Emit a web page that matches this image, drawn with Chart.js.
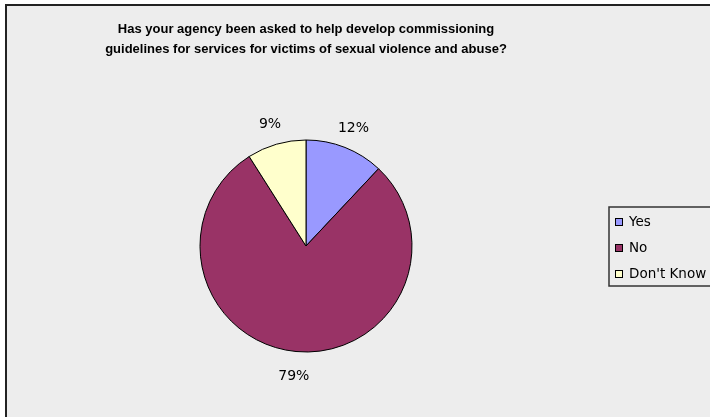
<!DOCTYPE html>
<html>
<head>
<meta charset="utf-8">
<script src="https://cdn.jsdelivr.net/npm/chart.js@4/dist/chart.umd.min.js"></script>
<style>
  html, body { margin: 0; padding: 0; background: #ffffff; }
  #wrap { width: 710px; height: 417px; overflow: hidden; }
</style>
</head>
<body>
<div id="wrap"><canvas id="pie-chart" width="710" height="417"></canvas></div>
<script>
var labels = ['Yes', 'No', "Don't Know"];
var values = [12, 79, 9];
var colours = ['#9999ff', '#993366', '#ffffcc'];
var titleLines = [
  'Has your agency been asked to help develop commissioning',
  'guidelines for services for victims of sexual violence and abuse?'
];

var fontFamily = '"DejaVu Sans", Verdana, sans-serif';
var titleFamily = '"Liberation Sans", Arial, sans-serif';

// grey panel, dark frame only shows on the left and top edges
var framePlugin = {
  id: 'frame',
  beforeDraw: function(chart) {
    var c = chart.ctx;
    c.save();
    c.fillStyle = '#ffffff';
    c.fillRect(0, 0, 710, 417);
    c.fillStyle = '#ededed';
    c.fillRect(5, 5, 705, 412);
    c.strokeStyle = '#222222';
    c.lineWidth = 2;
    c.beginPath();
    c.moveTo(6, 417);
    c.lineTo(6, 5);
    c.lineTo(710, 5);
    c.stroke();
    c.restore();
  }
};

// percentage labels outside each slice
var pctPlugin = {
  id: 'pctLabels',
  afterDatasetsDraw: function(chart) {
    var c = chart.ctx;
    var meta = chart.getDatasetMeta(0);
    var data = chart.data.datasets[0].data;
    var total = data.reduce(function(a, b) { return a + b; }, 0);
    c.save();
    c.font = '14px ' + fontFamily;
    c.fillStyle = '#000000';
    c.textAlign = 'center';
    c.textBaseline = 'middle';
    meta.data.forEach(function(arc, i) {
      var p = arc.getProps(['x', 'y', 'startAngle', 'endAngle', 'outerRadius'], true);
      var mid = (p.startAngle + p.endAngle) / 2;
      var r = p.outerRadius + 23;
      var txt = Math.round(data[i] / total * 100) + '%';
      c.fillText(txt, p.x + Math.cos(mid) * r, p.y + Math.sin(mid) * r + 2);
    });
    c.restore();
  }
};

// boxed legend on the right
var legendPlugin = {
  id: 'boxLegend',
  afterDraw: function(chart) {
    var c = chart.ctx;
    var ds = chart.data.datasets[0];
    var left = 609, top = 207, rowH = 26;
    c.save();
    c.strokeStyle = '#333333';
    c.lineWidth = 1.5;
    c.strokeRect(left, top, 120, 79);
    c.font = '13.5px ' + fontFamily;
    c.textAlign = 'left';
    c.textBaseline = 'middle';
    chart.data.labels.forEach(function(lab, i) {
      var y = top + 15 + i * rowH;
      c.fillStyle = ds.backgroundColor[i];
      c.fillRect(615.5, y - 3.5, 7, 7);
      c.strokeStyle = '#000000';
      c.lineWidth = 1;
      c.strokeRect(615.5, y - 3.5, 7, 7);
      c.fillStyle = '#000000';
      c.fillText(lab, 629, y);
    });
    c.restore();
  }
};

var ctx = document.getElementById('pie-chart');
var chart1 = new Chart(ctx, {
  type: 'pie',
  data: {
    labels: labels,
    datasets: [{
      data: values,
      backgroundColor: colours,
      borderColor: '#000000',
      borderWidth: 1,
      radius: 106
    }]
  },
  options: {
    responsive: false,
    animation: false,
    events: [],
    layout: {
      padding: { left: 10, right: 108, top: 0, bottom: 1 }
    },
    plugins: {
      legend: { display: false },
      tooltip: { enabled: false },
      title: {
        display: true,
        text: titleLines,
        color: '#000000',
        font: { family: titleFamily, size: 13, weight: 'bold', lineHeight: '20px' },
        padding: { top: 19, bottom: 17 }
      }
    }
  },
  plugins: [framePlugin, pctPlugin, legendPlugin]
});
</script>
</body>
</html>
